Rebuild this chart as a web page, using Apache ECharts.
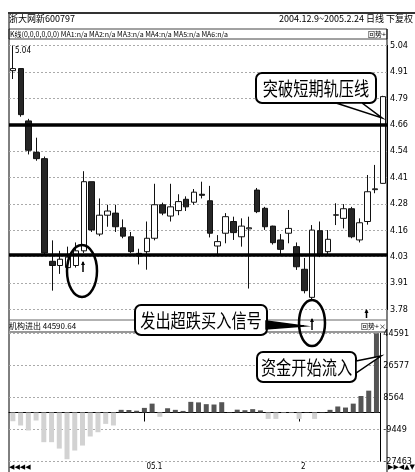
<!DOCTYPE html>
<html><head><meta charset="utf-8">
<script src="https://cdn.jsdelivr.net/npm/echarts@6/dist/echarts.min.js"></script>
<style>html,body{margin:0;padding:0;background:#fff}#c{width:415px;height:472px}</style>
</head><body><div id="c"></div>
<script>
const dates = ['2004-12-09','2004-12-10','2004-12-13','2004-12-14','2004-12-15','2004-12-16','2004-12-17','2004-12-20','2004-12-21','2004-12-22','2004-12-23','2004-12-24','2004-12-27','2004-12-28','2004-12-29','2004-12-30','2004-12-31',
'2005-01-04','2005-01-05','2005-01-06','2005-01-07','2005-01-10','2005-01-11','2005-01-12','2005-01-13','2005-01-14','2005-01-17','2005-01-18','2005-01-19','2005-01-20','2005-01-21','2005-01-24','2005-01-25','2005-01-26','2005-01-27','2005-01-28','2005-01-31',
'2005-02-01','2005-02-02','2005-02-03','2005-02-04','2005-02-16','2005-02-17','2005-02-18','2005-02-21','2005-02-22','2005-02-23','2005-02-24'];
const opens  = [4.92,4.93,4.68,4.53,4.50,4.01,3.99,3.98,3.99,4.06,4.39,4.14,4.23,4.24,4.17,4.127,4.048,4.056,4.12,4.28,4.226,4.252,4.306,4.292,4.33,4.299,4.083,4.144,4.20,4.127,4.165,4.35,4.263,4.178,4.112,4.144,4.08,3.972,3.838,4.156,4.056,4.23,4.215,4.261,4.112,4.20,4.352,4.382];
const closes = [4.93,4.71,4.54,4.50,4.05,3.99,4.02,4.03,4.06,4.39,4.16,4.23,4.25,4.175,4.13,4.056,4.035,4.12,4.28,4.24,4.27,4.295,4.27,4.34,4.325,4.144,4.104,4.223,4.147,4.178,4.17,4.247,4.175,4.099,4.067,4.167,3.984,3.87,4.159,4.04,4.115,4.232,4.261,4.127,4.194,4.342,4.356,4.796];
const lows   = [4.88,4.70,4.52,4.49,4.04,3.87,3.95,3.97,3.98,4.05,4.15,4.13,4.175,4.15,4.12,4.05,3.995,3.97,4.11,4.23,4.20,4.23,4.25,4.28,4.31,4.124,4.04,4.096,4.112,4.08,3.88,4.24,4.16,4.09,4.04,4.096,3.969,3.857,3.82,4.03,4.045,4.183,4.167,4.12,4.10,4.185,4.335,4.38];
const highs  = [5.04,4.93,4.69,4.60,4.51,4.11,4.06,4.08,4.10,4.44,4.39,4.31,4.28,4.28,4.21,4.15,4.07,4.20,4.38,4.29,4.38,4.33,4.32,4.355,4.39,4.37,4.135,4.24,4.223,4.215,4.223,4.36,4.27,4.18,4.14,4.255,4.10,4.026,4.183,4.20,4.159,4.287,4.283,4.27,4.215,4.422,4.47,4.80];
const flows  = [-4900,-7300,-10100,-4500,-16700,-16700,-20300,-26300,-21400,-18600,-13500,-11100,-6400,-7300,1500,1400,1000,2600,5000,-2400,2400,1500,900,6000,5700,4700,4500,5800,300,1600,1300,1900,1200,-3600,-3600,-300,-300,-3600,300,-3600,300,1500,3400,2800,5000,9300,12300,44590.64];
const levelLines = [4.662, 4.035];
const priceTicks = ['3.78','3.91','4.03','4.16','4.28','4.41','4.54','4.66','4.79','4.91','5.04'];
const flowTicks = ['-27463','-9449','8564','26577','44591'];

const PMIN = 3.78, PMAX = 5.04, PINT = 0.126;
const FMIN = -27463, FMAX = 44591, FINT = 18013.5;
const numFont = "'Liberation Sans Narrow','DejaVu Sans Condensed','Liberation Serif',serif";
const cjk = "'Noto Sans CJK SC','Noto Sans',sans-serif";

function isMonthStart(i){ return i > 0 && dates[i].slice(5,7) !== dates[i-1].slice(5,7); }
function monthLabel(i){ const y = dates[i].slice(2,4), m = +dates[i].slice(5,7); return m === 1 ? y + '.' + m : '' + m; }

const candleData = dates.map((d,i)=>[opens[i], closes[i], lows[i], highs[i]]);

const chart = echarts.init(document.getElementById('c'));
const G = [];
// frame lines
G.push({type:'rect', shape:{x:8,y:12,width:407,height:2}, style:{fill:'#333'}, silent:true});
G.push({type:'rect', shape:{x:9,y:29,width:378,height:10}, style:{fill:'none',stroke:'#444',lineWidth:1}, silent:true});
G.push({type:'line', shape:{x1:9,y1:14,x2:9,y2:472}, style:{stroke:'#000',lineWidth:1}, silent:true});
G.push({type:'line', shape:{x1:387,y1:29,x2:387,y2:472}, style:{stroke:'#000',lineWidth:1}, silent:true});
G.push({type:'line', shape:{x1:9,y1:320,x2:387,y2:320}, style:{stroke:'#666',lineWidth:1}, silent:true});
G.push({type:'rect', shape:{x:9,y:331,width:378,height:2}, style:{fill:'#999'}, silent:true});
// header texts
G.push({type:'text', x:9, y:18.5, style:{text:'浙大网新600797', fontSize:9, fontFamily:cjk, fill:'#000', align:'left', verticalAlign:'middle'}});
G.push({type:'text', x:413, y:18.5, style:{text:'2004.12.9~2005.2.24 日线 下复权', fontSize:9, fontFamily:cjk, fill:'#000', align:'right', verticalAlign:'middle'}});
G.push({type:'text', x:10, y:34.5, style:{text:'K线(0,0,0,0,0,0) MA1:n/a MA2:n/a MA3:n/a MA4:n/a MA5:n/a MA6:n/a', fontSize:7, fontFamily:cjk, fill:'#000', align:'left', verticalAlign:'middle'}});
G.push({type:'text', x:386, y:34.5, style:{text:'回势+', fontSize:7, fontFamily:cjk, fill:'#000', align:'right', verticalAlign:'middle'}});
G.push({type:'text', x:9, y:326, style:{text:'机构进出 44590.64', fontSize:8, fontFamily:cjk, fill:'#000', align:'left', verticalAlign:'middle'}});
G.push({type:'text', x:386, y:326, style:{text:'回势+×', fontSize:7, fontFamily:cjk, fill:'#000', align:'right', verticalAlign:'middle'}});
G.push({type:'text', x:15, y:51, style:{text:'5.04', fontSize:8, fontFamily:numFont, fill:'#000', align:'left', verticalAlign:'middle'}});
G.push({type:'text', x:9, y:467, style:{text:'◀◀◀◀', fontSize:7, fontFamily:'DejaVu Sans', fill:'#000', align:'left', verticalAlign:'middle'}});
G.push({type:'text', x:415, y:467, style:{text:'▶▶◀▲▼', fontSize:7, fontFamily:'DejaVu Sans', fill:'#000', align:'right', verticalAlign:'middle'}});
// circles + arrows
G.push({type:'ellipse', shape:{cx:82,cy:271,rx:15,ry:26}, style:{fill:'none',stroke:'#000',lineWidth:2.5}, z:50});
G.push({type:'ellipse', shape:{cx:312,cy:323,rx:13,ry:23}, style:{fill:'none',stroke:'#000',lineWidth:2.5}, z:50});
function arrow(x,y1,y2){
  G.push({type:'line', shape:{x1:x,y1:y1,x2:x,y2:y2}, style:{stroke:'#000',lineWidth:1.5}, z:50});
  G.push({type:'polygon', shape:{points:[[x,y1-1],[x-2,y1+3],[x+2,y1+3]]}, style:{fill:'#000'}, z:50});
}
arrow(83,262,272); arrow(312,319,330); arrow(366.5,310,318);
// callouts
function callout(x,y,w,h,text,tail,tailFill){
  G.push({type:'rect', shape:{x:x,y:y,width:w,height:h,r:6}, style:{fill:'#fff',stroke:'#000',lineWidth:2}, z:60});
  G.push({type:'polygon', shape:{points:tail}, style:{fill:tailFill,stroke:'#000',lineWidth:1.5}, z:61});
  G.push({type:'text', x:x+w/2, y:y+h/2+1, scaleX:0.8, style:{text:text, fontSize:19, fontFamily:cjk, fill:'#000', align:'center', verticalAlign:'middle'}, z:62});
}
callout(256,73,120,30,'突破短期轨压线',[[336,103],[382,118],[362,103]],'#fff');
callout(135,305,132,30,'发出超跌买入信号',[[266,321],[304,326],[266,329]],'#000');
callout(257,352,99,30,'资金开始流入',[[356,361],[381,356],[356,373]],'#fff');

chart.setOption({
  animation:false,
  backgroundColor:'#fff',
  grid:[
    {left:9, top:45.5, width:378, height:264},
    {left:9, top:333.3, width:378, height:128}
  ],
  xAxis:[
    {type:'category', gridIndex:0, data:dates, boundaryGap:true, axisLine:{show:false}, axisTick:{show:false}, axisLabel:{show:false}, splitLine:{show:false}},
    {type:'category', gridIndex:1, data:dates, boundaryGap:true,
     axisLine:{show:true, lineStyle:{color:'#000', width:1}},
     axisTick:{show:true, alignWithLabel:true, interval:(i)=>isMonthStart(i), length:9, lineStyle:{color:'#000'}},
     axisLabel:{show:true, interval:(i)=>isMonthStart(i), formatter:(v,i)=>monthLabel(i), align:'left', margin:2, padding:[0,0,0,2], fontSize:8, fontFamily:numFont, color:'#000'},
     splitLine:{show:false}}
  ],
  yAxis:[
    {type:'value', gridIndex:0, position:'right', min:PMIN, max:PMAX, interval:PINT,
     axisLine:{show:true, lineStyle:{color:'#000'}}, axisTick:{show:false},
     axisLabel:{formatter:(v)=>priceTicks[Math.round((v-PMIN)/PINT)], margin:3, fontSize:9, fontFamily:numFont, color:'#000'},
     splitLine:{show:true, lineStyle:{type:[2,2], color:'#aaa', width:1}}},
    {type:'value', gridIndex:1, position:'right', min:FMIN, max:FMAX, interval:FINT,
     axisLine:{show:true, lineStyle:{color:'#000'}}, axisTick:{show:false},
     axisLabel:{formatter:(v)=>flowTicks[Math.round((v-FMIN)/FINT)], margin:3, fontSize:9, fontFamily:numFont, color:'#000'},
     splitLine:{show:true, lineStyle:{type:[2,2], color:'#aaa', width:1}}}
  ],
  series:[
    {type:'candlestick', xAxisIndex:0, yAxisIndex:0, data:candleData, barWidth:6,
     itemStyle:{color:'#fff', color0:'#262626', borderColor:'#111', borderColor0:'#111', borderWidth:1},
     markLine:{symbol:'none', silent:true, label:{show:false}, lineStyle:{color:'#000', width:3.5, type:'solid'},
       data: levelLines.map(v=>({yAxis:v}))}},
    {type:'bar', xAxisIndex:1, yAxisIndex:1, data:flows, barWidth:5,
     itemStyle:{color:(p)=>p.value>=0?'#555':'#d2d2d2'}}
  ],
  graphic: G
});
</script></body></html>
